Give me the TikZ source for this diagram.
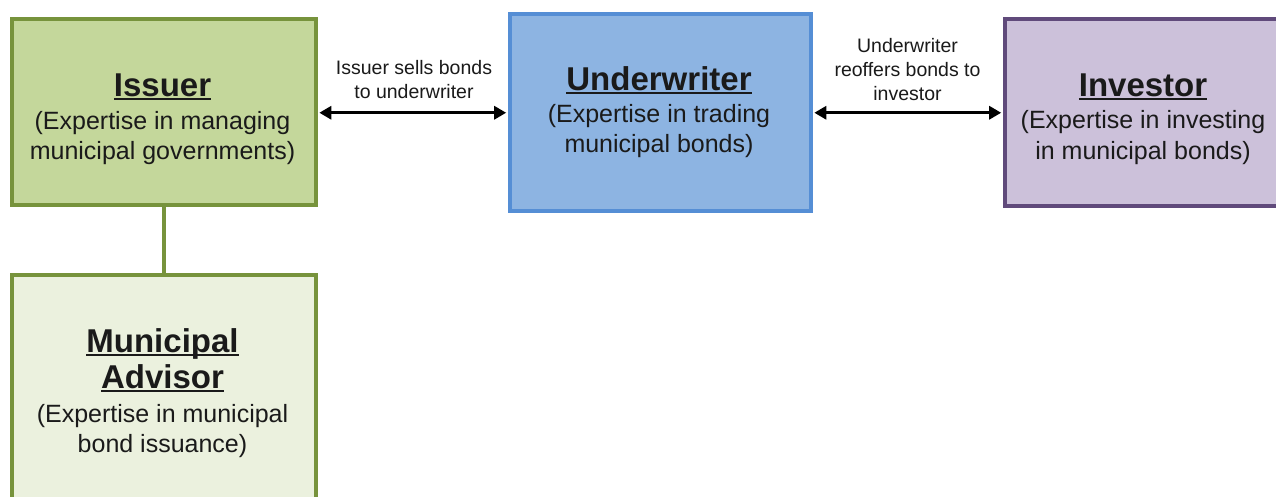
\documentclass[tikz,border=0pt]{standalone}
\usepackage{fontspec}
\setmainfont{Liberation Sans}
\usetikzlibrary{arrows.meta}
\definecolor{issuerfill}{HTML}{C4D79B}
\definecolor{greenline}{HTML}{77933C}
\definecolor{uwfill}{HTML}{8DB4E2}
\definecolor{uwline}{HTML}{558ED5}
\definecolor{invfill}{HTML}{CCC1DA}
\definecolor{invline}{HTML}{604A7B}
\definecolor{advfill}{HTML}{EBF1DE}
\definecolor{txt}{HTML}{1A1A1A}
\newcommand\myul[1]{\setbox0\hbox{#1}\rlap{\rule[-3.5pt]{\wd0}{2pt}}\box0}
\begin{document}
\begin{tikzpicture}[x=1pt,y=-1pt,
  box/.style={draw, line width=3.5pt, inner sep=0pt, anchor=north west},
  titletext/.style={anchor=base, inner sep=0pt, text=txt, font=\fontsize{33}{38}\selectfont\bfseries},
  bodytext/.style={anchor=base, inner sep=0pt, text=txt, font=\fontsize{25}{30}\selectfont},
  labeltext/.style={anchor=base, inner sep=0pt, text=txt, font=\fontsize{19.5}{24}\selectfont},
  dblarrow/.style={{Triangle[length=12pt,width=13pt]}-{Triangle[length=12pt,width=13pt]}, line width=3.2pt, black, shorten <=1.8pt, shorten >=1.8pt},
  link/.style={draw=greenline, line width=3.5pt}]
\useasboundingbox (0,0) rectangle (1276,496);
\clip (0,0) rectangle (1276,496);
\fill[white] (0,0) rectangle (1276,496);

% boxes
\node[box, fill=issuerfill, draw=greenline, minimum width=304pt, minimum height=186pt] (issuer) at (10,17) {};
\node[box, fill=uwfill, draw=uwline, minimum width=301pt, minimum height=197pt] (uw) at (508,12) {};
\node[box, fill=invfill, draw=invline, minimum width=282pt, minimum height=187pt] (inv) at (1003,17) {};
\node[box, fill=advfill, draw=greenline, minimum width=304pt, minimum height=242pt] (adv) at (10,273) {};

% connectors
\draw[link] (issuer.south) -- (adv.north);
\draw[dblarrow] ([yshift=-1pt]issuer.east) -- ([yshift=-1pt]issuer.east -| uw.west);
\draw[dblarrow] ([yshift=-0.5pt]inv.west -| uw.east) -- ([yshift=-0.5pt]inv.west);

% issuer text
\node[titletext] (issuerT) at (162.5,96) {\myul{Issuer}};
\node[bodytext] (issuerB1) at (162.5,129) {(Expertise in managing};
\node[bodytext] (issuerB2) at (162.5,159.5) {municipal governments)};

% underwriter text
\node[titletext] (uwT) at (659,90) {\myul{Underwriter}};
\node[bodytext] (uwB1) at (659,122) {(Expertise in trading};
\node[bodytext] (uwB2) at (659,152.5) {municipal bonds)};

% investor text
\node[titletext] (invT) at (1143,96) {\myul{Investor}};
\node[bodytext] (invB1) at (1143,128.5) {(Expertise in investing};
\node[bodytext] (invB2) at (1143,159) {in municipal bonds)};

% advisor text
\node[titletext] (advT1) at (162.5,352) {\myul{Municipal}};
\node[titletext] (advT2) at (162.5,388.5) {\myul{Advisor}};
\node[bodytext] (advB1) at (162.5,422) {(Expertise in municipal};
\node[bodytext] (advB2) at (162.5,452) {bond issuance)};

% arrow labels
\node[labeltext] (lab1a) at (414,74) {Issuer sells bonds};
\node[labeltext] (lab1b) at (414,98) {to underwriter};
\node[labeltext] (lab2a) at (907.5,52) {Underwriter};
\node[labeltext] (lab2b) at (907.5,76) {reoffers bonds to};
\node[labeltext] (lab2c) at (907.5,100) {investor};
\end{tikzpicture}
\end{document}
